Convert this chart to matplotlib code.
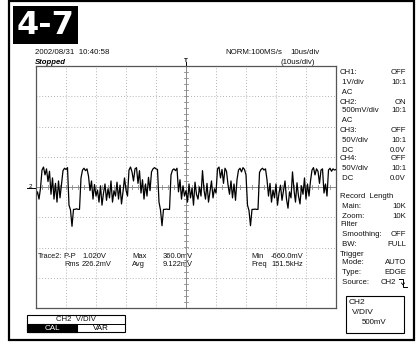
import numpy as np
import matplotlib
matplotlib.use('Agg')
import matplotlib.pyplot as plt
from matplotlib.patches import Rectangle

# CH2 trace, mV, one sample every 0.5 us (10 us/div, 10 div)
sample_step_us = 0.5
trace_mv = [
    -150, -80, -200, -20, 280, 330, 200, 300, 90, 260,
    -120, 150, -200, 60, -250, 100, -180, 40, 270, 310,
    290, 320, -300, -380, -650, -370, -370, -360, -370, -370,
    150, 280, 310, 270, 300, 180, -60, 100, -200, 40,
    -150, -50, -250, 20, -300, -100, 50, -220, -30, -180,
    100, -250, -60, -150, 80, -200, 30, -280, -80, 150,
    -50, -150, 280, 330, 250, 100, 300, 320, 60, 270,
    -100, 120, -200, 50, -150, 160, -60, 250, 300, 320,
    300, 290, -250, -380, -640, -370, -370, -365, -370, -370,
    200, 280, 300, 270, 310, -80, 120, -200, 20, -150,
    -60, -250, 50, -180, -20, -300, 80, -120, -200, 0,
    -150, 270, -50, -200, 60, -250, -80, 100, -180, -30,
    -100, 300, 330, 150, 290, 60, 310, 260, 40, -120,
    100, -180, 50, -220, 120, 280, 310, 250, 320, 290,
    200, -300, -390, -640, -370, -370, -365, -370, -370, 240,
    290, 310, 280, 300, 120, -150, 60, -250, -50, -180,
    50, -300, -100, 30, -220, -60, 100, -200, -350, -80,
    -180, 250, -50, -250, 70, -150, -280, 20, -120, 150,
    -200, 50, -150, 100, 280, 320, 200, 300, 260, 60,
    280, 300, -100, 50, -150, 280, 310, 260, 300, 280,
    290,
]

header_left = ['2002/08/31  10:40:58', 'Stopped']
header_mid = 'NORM:100MS/s'
header_tdiv = ['10us/div', '(10us/div)']

panel_labels = ['CH1:', ' 1V/div', ' AC', 'CH2:', ' 500mV/div', ' AC',
                'CH3:', ' 50V/div', ' DC', 'CH4:', ' 50V/div', ' DC']
panel_values = ['OFF', '10:1', '', 'ON', '10:1', '', 'OFF', '10:1', '0.0V',
                'OFF', '10:1', '0.0V']
panel2_labels = ['Record  Length', ' Main:', ' Zoom:', 'Filter', ' Smoothing:',
                 ' BW:', 'Trigger', ' Mode:', ' Type:', ' Source:']
panel2_values = ['', '10K', '10K', '', 'OFF', 'FULL', '', 'AUTO', 'EDGE', 'CH2']

meas_row1 = [('Trace2:', 38), ('P-P', 63), ('1.020V', 82), ('Max', 132),
             ('360.0mV', 163), ('Min', 251), ('-660.0mV', 271)]
meas_row2 = [('Rms', 64), ('226.2mV', 82), ('Avg', 132), ('9.122mV', 163),
             ('Freq', 251), ('151.5kHz', 271)]

W, H = 417, 342
fig = plt.figure(figsize=(W / 100, H / 100), dpi=100)
bg = fig.add_axes([0, 0, 1, 1])
bg.set_xlim(0, W)
bg.set_ylim(H, 0)
bg.axis('off')

fnt = 'Liberation Sans'
fs = 5.6
ink = '#111111'

# outer frame
bg.add_patch(Rectangle((9, 1), 405, 339, fill=False, lw=1.6, ec='black'))

# chapter tag
bg.add_patch(Rectangle((13, 6), 65, 38, fc='black', ec='none'))
bg.text(45.5, 26, '4-7', color='white', fontsize=23, fontweight='bold',
        family=['Liberation Sans Narrow', 'DejaVu Sans'], ha='center', va='center')

# header
bg.text(35, 52, header_left[0], fontsize=5.7, family=fnt, color=ink, va='center')
bg.text(35, 62, header_left[1], fontsize=5.6, family=fnt, style='italic',
        fontweight='bold', va='center')
bg.text(225, 52, header_mid, fontsize=5.7, family=fnt, color=ink, va='center')
bg.text(290, 52, header_tdiv[0], fontsize=5.7, family=fnt, color=ink, va='center')
bg.text(281, 62, header_tdiv[1], fontsize=5.7, family=fnt, color=ink, va='center')
bg.text(186, 60, 'T', fontsize=4.5, family=fnt, ha='center', va='center', fontweight='bold')
bg.plot([186, 186], [62, 65], color='black', lw=0.7)

# channel marker on left
bg.text(30, 186, '2', fontsize=4.5, family=fnt, ha='center', va='center')
bg.plot([27, 36], [188, 188], color='black', lw=0.7)

# scope screen
x0, y0, x1, y1 = 36, 66, 336, 308
ax = fig.add_axes([x0 / W, 1 - y1 / H, (x1 - x0) / W, (y1 - y0) / H])
ax.set_facecolor('none')
ax.set_xlim(0, 100)
ax.set_ylim(-2, 2)
ax.set_xticks([])
ax.set_yticks([])
for s in ax.spines.values():
    s.set_color('#555555')
    s.set_linewidth(0.9)
for xv in range(10, 100, 10):
    if xv != 50:
        ax.axvline(xv, color='#9a9a9a', lw=0.6, ls=(0, (1, 2.5)))
for yv in np.arange(-1.5, 2.0, 0.5):
    if abs(yv) > 1e-9:
        ax.axhline(yv, color='#9a9a9a', lw=0.6, ls=(0, (1, 2.5)))
ax.axvline(50, color='#8a8a8a', lw=0.7)
ax.axhline(0, color='#8a8a8a', lw=0.7)
for yv in np.arange(-2.0, 2.01, 0.1):
    ax.plot([49.3, 50.7], [yv, yv], color='#8a8a8a', lw=0.6)
for xv in np.arange(0, 100.1, 2):
    ax.plot([xv, xv], [-0.035, 0.035], color='#8a8a8a', lw=0.6)

t = np.arange(len(trace_mv)) * sample_step_us
ax.plot(t, np.array(trace_mv) / 1000.0, color='black', lw=0.9)

# measurements
for txt, xp in meas_row1:
    size = 5.2 if txt == 'Trace2:' else 5.5
    bg.text(xp, 256, txt, fontsize=size, family=fnt, color=ink, va='center')
for txt, xp in meas_row2:
    bg.text(xp, 264, txt, fontsize=5.4, family=fnt, color=ink, va='center')

# right info panel
ys = [73, 82, 92, 102, 111, 121, 131, 140, 150, 159, 169, 178]
for lab, val, yy in zip(panel_labels, panel_values, ys):
    bg.text(340, yy, lab, fontsize=fs, family=fnt, color=ink, va='center')
    bg.text(406, yy, val, fontsize=fs, family=fnt, color=ink, va='center', ha='right')
ys2 = [197, 206, 216, 225, 235, 244, 254, 263, 273, 283]
for lab, val, yy in zip(panel2_labels, panel2_values, ys2):
    bg.text(340, yy, lab, fontsize=fs, family=fnt, color=ink, va='center')
    xr = 396 if lab.strip() == 'Source:' else 406
    bg.text(xr, yy, val, fontsize=fs, family=fnt, color=ink, va='center', ha='right')
# falling edge symbol
bg.plot([399, 403, 403, 407], [279, 279, 287, 287], color='black', lw=0.7)
bg.plot([401.5, 403, 404.5], [283, 285, 283], color='black', lw=0.6)

# CH2 V/DIV box right
bg.add_patch(Rectangle((346, 296), 58, 37, fill=False, ec='black', lw=0.8))
bg.text(349, 302, 'CH2', fontsize=6, family=fnt, color=ink, va='center')
bg.text(352, 312, 'V/DIV', fontsize=6, family=fnt, color=ink, va='center')
bg.text(362, 323, '500mV', fontsize=5.7, family=fnt, color=ink, va='center')

# softkey at bottom left
bg.add_patch(Rectangle((27, 315), 98, 17, fill=False, ec='black', lw=0.8))
bg.plot([27, 125], [323.5, 323.5], color='black', lw=0.7)
bg.add_patch(Rectangle((27, 323.5), 50, 8.5, fc='black', ec='black', lw=0.8))
bg.text(76, 319.3, 'CH2  V/DIV', fontsize=5.6, family=fnt, color=ink,
        ha='center', va='center')
bg.text(52, 328, 'CAL', fontsize=5.8, family=fnt, ha='center', va='center', color='white')
bg.text(101, 328, 'VAR', fontsize=5.8, family=fnt, ha='center', va='center')

fig.savefig('out.png', dpi=100, facecolor='white')
